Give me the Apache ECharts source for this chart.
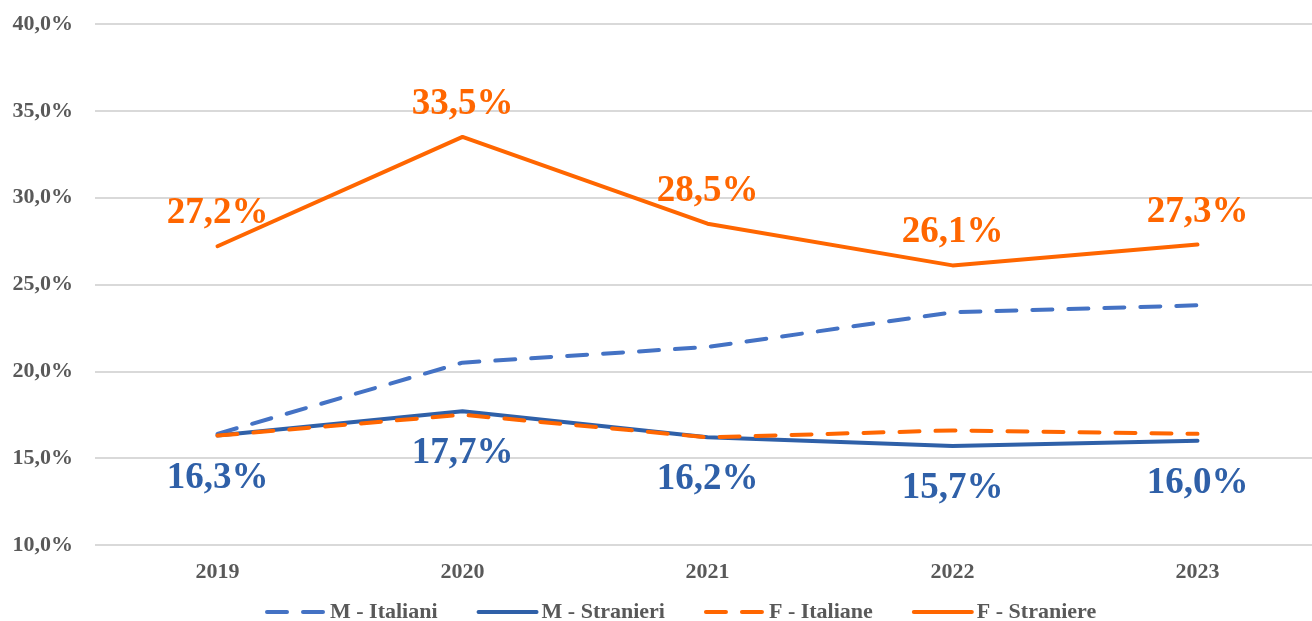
<!DOCTYPE html>
<html>
<head>
<meta charset="utf-8">
<script src="https://cdn.jsdelivr.net/npm/echarts@6/dist/echarts.min.js"></script>
<style>
  html, body { margin: 0; padding: 0; background: #fff; }
  #chart { width: 1312px; height: 621px; }
</style>
</head>
<body>
<div id="chart"></div>
<script>
var years = ['2019', '2020', '2021', '2022', '2023'];
var mItaliani = [16.4, 20.5, 21.4, 23.4, 23.8];
var mStranieri = [16.3, 17.7, 16.2, 15.7, 16.0];
var fItaliane = [16.3, 17.5, 16.2, 16.6, 16.4];
var fStraniere = [27.2, 33.5, 28.5, 26.1, 27.3];

var font = 'Liberation Serif';
var grey = '#595959';
var blueLight = '#4472C4';
var blueDark = '#2F60A8';
var orange = '#FF6600';

function pct(v) {
    return v.toFixed(1).replace('.', ',') + '%';
}

var myChart = echarts.init(document.getElementById('chart'));
var option = {
    animation: false,
    grid: {
        top: 24,
        left: 95,
        right: -8,
        bottom: 76,
        outerBoundsMode: 'none',
        containLabel: false
    },
    legend: {
        left: 260,
        top: 596,
        itemWidth: 58,
        itemHeight: 14,
        itemGap: 39,
        itemStyle: { opacity: 0 },
        lineStyle: { width: 4 },
        textStyle: { fontFamily: font, fontWeight: 'bold', fontSize: 22, color: grey },
        data: ['M - Italiani', 'M - Stranieri', 'F - Italiane', 'F - Straniere']
    },
    xAxis: {
        type: 'category',
        data: years,
        axisLine: { show: false },
        axisTick: { show: false },
        axisLabel: { margin: 16, fontFamily: font, fontWeight: 'bold', fontSize: 22, color: grey }
    },
    yAxis: {
        type: 'value',
        min: 10,
        max: 40,
        interval: 5,
        axisLabel: {
            margin: 22,
            fontFamily: font, fontWeight: 'bold', fontSize: 22, color: grey,
            formatter: function (v) { return pct(v); }
        },
        splitLine: { lineStyle: { color: '#D9D9D9', width: 2 } }
    },
    series: [
        {
            name: 'M - Italiani',
            type: 'line',
            data: mItaliani,
            symbol: 'none',
            color: blueLight,
            lineStyle: { width: 4, color: blueLight, type: [20, 16], cap: 'round' }
        },
        {
            name: 'M - Stranieri',
            type: 'line',
            data: mStranieri,
            symbol: 'circle',
            symbolSize: 0,
            showSymbol: true,
            color: blueDark,
            lineStyle: { width: 4, color: blueDark, cap: 'round' },
            label: {
                show: true,
                position: 'bottom',
                distance: 24,
                fontFamily: font, fontWeight: 'bold', fontSize: 37, color: blueDark,
                formatter: function (p) { return pct(p.value); }
            }
        },
        {
            name: 'F - Italiane',
            type: 'line',
            data: fItaliane,
            symbol: 'none',
            color: orange,
            lineStyle: { width: 4, color: orange, type: [20, 16], cap: 'round' }
        },
        {
            name: 'F - Straniere',
            type: 'line',
            data: fStraniere,
            symbol: 'circle',
            symbolSize: 0,
            showSymbol: true,
            color: orange,
            lineStyle: { width: 4, color: orange, cap: 'round' },
            label: {
                show: true,
                position: 'top',
                distance: 14,
                fontFamily: font, fontWeight: 'bold', fontSize: 37, color: orange,
                formatter: function (p) { return pct(p.value); }
            }
        }
    ]
};
myChart.setOption(option);
window.onresize = myChart.resize;
</script>
</body>
</html>
